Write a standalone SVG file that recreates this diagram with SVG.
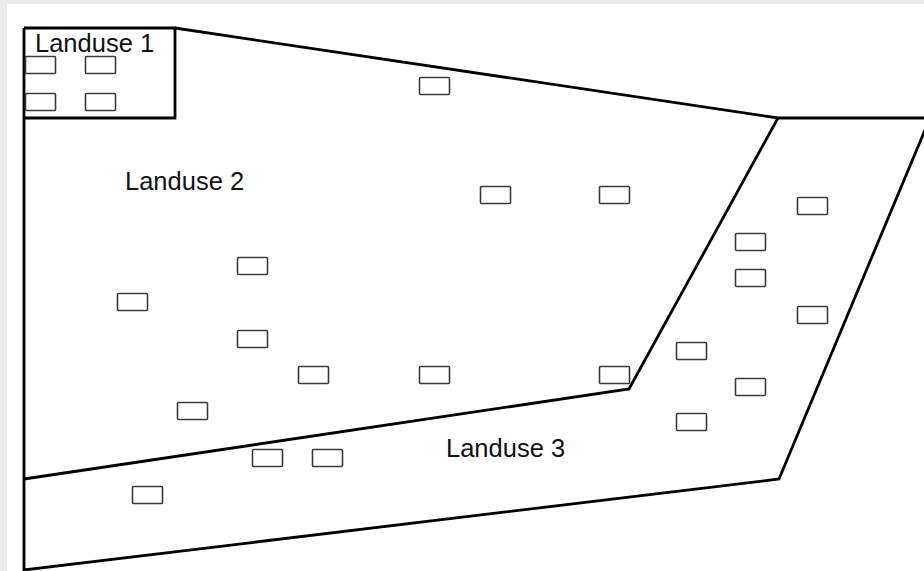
<svg xmlns="http://www.w3.org/2000/svg" width="924" height="571" viewBox="0 0 924 571">
<defs>
<style>
.bd{fill:none;stroke:#000;stroke-width:2.8;stroke-linejoin:miter}
.b{fill:#fff;stroke:#3a3a3a;stroke-width:1.6}
.lbl{font-family:"Liberation Sans",Arial,sans-serif;font-size:25.5px;fill:#111}
</style>
<rect id="b" class="b" width="30" height="17" rx="1"/>
</defs>
<rect width="924" height="571" fill="#ececec"/>
<rect x="7" y="4" width="917" height="567" fill="#fff"/>
<g id="boundaries">
<path class="bd" d="M175,28 L778,118 L930,118 M24,28 L24,570 L779,479 L930,118"/>
<path class="bd" d="M24,479 L629,389 L778,118"/>
<path class="bd" d="M24,28 L175,28 L175,118 L24,118"/>
</g>
<g id="landuse1">
<text class="lbl" x="35" y="52">Landuse 1</text>
<use href="#b" x="25.5" y="56.5"/>
<use href="#b" x="85.5" y="56.5"/>
<use href="#b" x="25.5" y="93.5"/>
<use href="#b" x="85.5" y="93.5"/>
</g>
<g id="landuse2">
<text class="lbl" x="125" y="190">Landuse 2</text>
<use href="#b" x="419.5" y="77.5"/>
<use href="#b" x="480.5" y="186.5"/>
<use href="#b" x="599.5" y="186.5"/>
<use href="#b" x="237.5" y="257.5"/>
<use href="#b" x="117.5" y="293.5"/>
<use href="#b" x="237.5" y="330.5"/>
<use href="#b" x="298.5" y="366.5"/>
<use href="#b" x="419.5" y="366.5"/>
<use href="#b" x="599.5" y="366.5"/>
<use href="#b" x="177.5" y="402.5"/>
</g>
<g id="landuse3">
<text class="lbl" x="446" y="457">Landuse 3</text>
<use href="#b" x="252.5" y="449.5"/>
<use href="#b" x="312.5" y="449.5"/>
<use href="#b" x="132.5" y="486.5"/>
<use href="#b" x="797.5" y="197.5"/>
<use href="#b" x="735.5" y="233.5"/>
<use href="#b" x="735.5" y="269.5"/>
<use href="#b" x="797.5" y="306.5"/>
<use href="#b" x="676.5" y="342.5"/>
<use href="#b" x="735.5" y="378.5"/>
<use href="#b" x="676.5" y="413.5"/>
</g>
</svg>
